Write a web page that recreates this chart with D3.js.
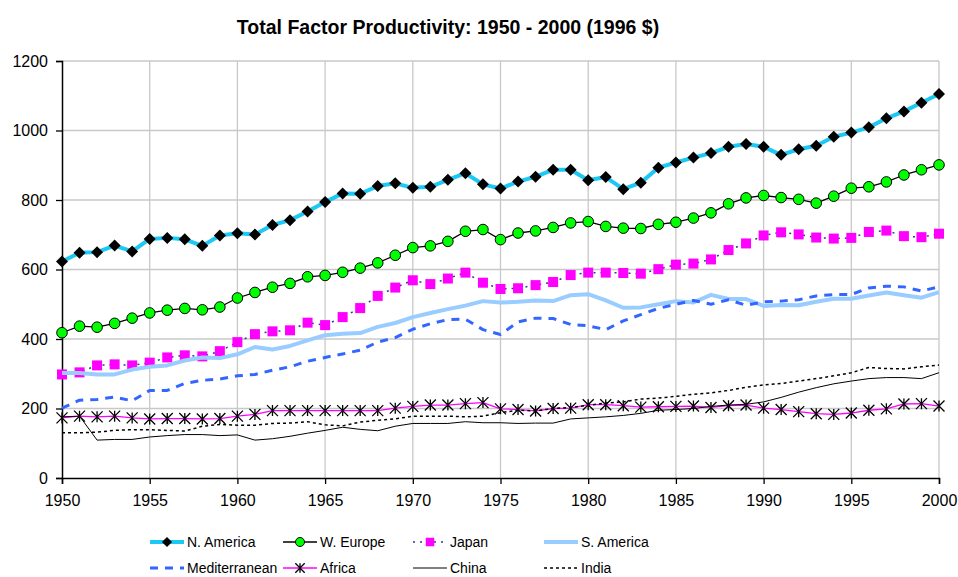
<!DOCTYPE html>
<html>
<head>
<meta charset="utf-8">
<script src="https://cdn.jsdelivr.net/npm/d3@7"></script>
<style>
  body { margin: 0; background: #fff; }
  text { font-family: "Liberation Sans", Arial, sans-serif; }
</style>
</head>
<body>
<script>
// data
var years = d3.range(1950, 2001);

var nAmerica = [623, 648, 650, 669, 652, 688, 691, 687, 668, 698, 704, 701, 728, 742, 767, 794, 819,
  818, 840, 848, 835, 838, 858, 877, 845, 833, 853, 867, 887, 887, 857, 866, 831, 850,
  893, 908, 922, 935, 953, 961, 953, 930, 946, 956, 982, 994, 1009, 1035, 1055, 1080, 1105];
var wEurope = [418, 437, 434, 445, 460, 475, 483, 488, 484, 492, 518, 534, 549, 560, 579, 583, 592,
  604, 619, 641, 663, 668, 681, 710, 715, 686, 705, 711, 721, 734, 738, 724, 719, 718,
  730, 736, 748, 763, 789, 806, 813, 807, 802, 791, 811, 834, 838, 852, 872, 887, 901];
var japan = [298, 304, 324, 327, 324, 332, 347, 353, 350, 365, 391, 414, 422, 425, 447, 440, 463,
  489, 524, 548, 569, 558, 574, 591, 562, 544, 546, 555, 564, 584, 591, 591, 590, 588,
  601, 614, 617, 629, 656, 675, 698, 707, 701, 692, 689, 691, 708, 712, 696, 693, 703];
var sAmerica = [302, 302, 298, 298, 312, 320, 324, 338, 347, 345, 356, 377, 370, 380, 396, 411, 415,
  417, 435, 446, 463, 475, 486, 496, 509, 505, 507, 511, 509, 526, 529, 511, 490, 491,
  500, 509, 505, 527, 515, 515, 495, 498, 497, 507, 516, 516, 525, 534, 526, 519, 535];
var mediterranean = [201, 224, 226, 233, 222, 252, 252, 272, 281, 285, 294, 298, 310, 320, 336, 347, 357,
  368, 391, 404, 428, 444, 456, 457, 427, 413, 449, 460, 459, 442, 438, 427, 452, 470,
  488, 500, 511, 500, 513, 497, 507, 509, 513, 524, 528, 528, 547, 552, 550, 538, 550];
var africa = [173, 178, 176, 178, 173, 170, 171, 171, 170, 171, 178, 183, 194, 194, 194, 194, 194,
  194, 194, 201, 206, 210, 210, 214, 217, 199, 197, 193, 200, 201, 211, 211, 208, 204,
  205, 206, 207, 203, 208, 210, 201, 197, 191, 185, 183, 187, 195, 199, 213, 214, 207];
var china = [176, 178, 109, 111, 111, 118, 122, 125, 125, 122, 124, 109, 113, 120, 129, 137, 146,
  140, 136, 149, 157, 157, 157, 162, 159, 159, 157, 158, 158, 170, 173, 176, 180, 186,
  195, 197, 200, 206, 210, 212, 219, 232, 247, 260, 271, 279, 286, 289, 289, 286, 303];
var india = [130, 130, 132, 137, 139, 139, 137, 135, 149, 154, 152, 152, 157, 158, 162, 153, 150,
  161, 166, 170, 178, 178, 178, 176, 178, 188, 195, 193, 200, 203, 209, 216, 219, 227,
  230, 235, 241, 245, 252, 261, 268, 272, 279, 286, 294, 303, 318, 315, 314, 320, 325];

var seriesNames = ["N. America", "W. Europe", "Japan", "S. America", "Mediterranean", "Africa", "China", "India"];
var yTicks = [0, 200, 400, 600, 800, 1000, 1200];
var xTicks = [1950, 1955, 1960, 1965, 1970, 1975, 1980, 1985, 1990, 1995, 2000];

var styles = {
  "N. America":    { values: nAmerica, color: "#1ec8f5", width: 4, dash: null, marker: "diamond" },
  "W. Europe":     { values: wEurope, color: "#000", width: 1.3, dash: null, marker: "circle" },
  "Japan":         { values: japan, color: "#333399", width: 1.5, dash: "2,5", marker: "square" },
  "S. America":    { values: sAmerica, color: "#99ccff", width: 4, dash: null, marker: null },
  "Mediterranean": { values: mediterranean, color: "#3366ff", width: 3, dash: "8,7", marker: null },
  "Africa":        { values: africa, color: "#ff00ff", width: 1.3, dash: null, marker: "star" },
  "China":         { values: china, color: "#000", width: 1, dash: null, marker: null },
  "India":         { values: india, color: "#000", width: 1.5, dash: "3,3", marker: null }
};

var W = 958, H = 577;
// plot box (don't call these top/left, those are window globals)
var plotL = 62, plotR = 939, plotT = 61, plotB = 478;

var svg = d3.select("body").append("svg")
    .attr("width", W)
    .attr("height", H);

var x = d3.scaleLinear().domain([1950, 2000]).range([plotL, plotR]);
var y = d3.scaleLinear().domain([0, 1200]).range([plotB, plotT]);

// title
svg.append("text")
    .attr("x", 448)
    .attr("y", 34)
    .attr("text-anchor", "middle")
    .style("font-size", "19.5px")
    .style("font-weight", "bold")
    .text("Total Factor Productivity: 1950 - 2000 (1996 $)");

// grid
svg.append("g")
    .selectAll("line")
    .data(yTicks.slice(1))
    .enter().append("line")
    .attr("x1", plotL).attr("x2", plotR)
    .attr("y1", function(d) { return y(d); })
    .attr("y2", function(d) { return y(d); })
    .style("stroke", "#c8c8c8").style("stroke-width", 1.3);

svg.append("g")
    .selectAll("line")
    .data(xTicks.slice(1))
    .enter().append("line")
    .attr("y1", plotT).attr("y2", plotB)
    .attr("x1", function(d) { return x(d); })
    .attr("x2", function(d) { return x(d); })
    .style("stroke", "#c8c8c8").style("stroke-width", 1.3);

// axes
var xAxis = svg.append("g")
    .attr("transform", "translate(0," + plotB + ")")
    .call(d3.axisBottom(x).tickValues(xTicks).tickFormat(d3.format("d")).tickSize(6).tickPadding(11));
var yAxis = svg.append("g")
    .attr("transform", "translate(" + plotL + ",0)")
    .call(d3.axisLeft(y).tickValues(yTicks).tickFormat(d3.format("d")).tickSize(6).tickPadding(8));

[xAxis, yAxis].forEach(function(a) {
  a.select(".domain").style("stroke", "#000").style("stroke-width", 1.5);
  a.selectAll(".tick line").style("stroke", "#000").style("stroke-width", 1.3);
  a.selectAll(".tick text")
    .style("font-family", "'Liberation Sans', Arial, sans-serif")
    .style("font-size", "16px").style("fill", "#000");
});

var line = d3.line()
    .x(function(d, i) { return x(years[i]); })
    .y(function(d) { return y(d); });

function drawMarker(g, type, size) {
  var s = size || 1;
  if (type === "diamond") {
    var r = 6 * s;
    g.append("path").attr("d", "M0," + (-r) + "L" + r + ",0L0," + r + "L" + (-r) + ",0Z")
      .style("fill", "#000");
  } else if (type === "circle") {
    g.append("circle").attr("r", 5.3 * s)
      .style("fill", "#00ff00").style("stroke", "#000").style("stroke-width", 1);
  } else if (type === "square") {
    var h = 5 * s;
    g.append("rect").attr("x", -h).attr("y", -h).attr("width", 2 * h).attr("height", 2 * h)
      .style("fill", "#ff00ff");
  } else if (type === "star") {
    var q = 5.5 * s;
    g.append("path")
      .attr("d", "M0," + (-q) + "V" + q + "M" + (-q) + "," + (-q) + "L" + q + "," + q + "M" + (-q) + "," + q + "L" + q + "," + (-q))
      .style("stroke", "#000").style("stroke-width", 1.3).style("fill", "none");
  }
}

// series, drawn in legend order
seriesNames.forEach(function(name) {
  var st = styles[name];
  var g = svg.append("g");
  g.append("path")
    .datum(st.values)
    .attr("d", line)
    .style("fill", "none")
    .style("stroke", st.color)
    .style("stroke-width", st.width)
    .style("stroke-dasharray", st.dash)
    .style("stroke-linejoin", "round");
  if (st.marker) {
    g.selectAll("g.m")
      .data(st.values)
      .enter().append("g")
      .attr("transform", function(d, i) { return "translate(" + x(years[i]) + "," + y(d) + ")"; })
      .each(function() { drawMarker(d3.select(this), st.marker); });
  }
});

// legend
var legCols = [150, 283, 413, 544];
var legRows = [542, 568];
seriesNames.forEach(function(name, i) {
  var st = styles[name];
  var lx = legCols[i % 4], ly = legRows[Math.floor(i / 4)];
  var g = svg.append("g").attr("transform", "translate(" + lx + "," + ly + ")");
  g.append("line")
    .attr("x1", 0).attr("x2", 34).attr("y1", 0).attr("y2", 0)
    .style("stroke", st.color)
    .style("stroke-width", st.width)
    .style("stroke-dasharray", st.dash);
  if (st.marker) {
    var m = g.append("g").attr("transform", "translate(17,0)");
    drawMarker(m, st.marker, 0.85);
  }
  g.append("text")
    .attr("x", 37)
    .attr("y", 5)
    .style("font-size", "14px")
    .text(name);
});
</script>
</body>
</html>
